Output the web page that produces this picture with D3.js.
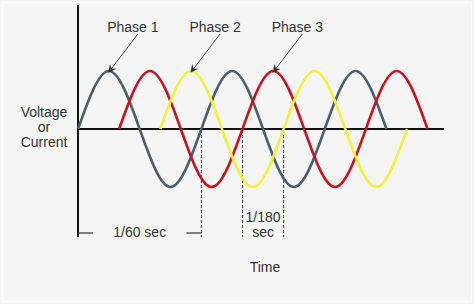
<!DOCTYPE html>
<html>
<head>
<meta charset="utf-8">
<script src="https://cdn.jsdelivr.net/npm/d3@7"></script>
<style>
  body { margin: 0; background: #f4f4f4; }
  svg { display: block; }
  text { font-family: "Liberation Sans", Arial, sans-serif; font-size: 14px; fill: #333; }
</style>
</head>
<body>
<svg id="chart"></svg>
<script>
// time is in units of 1/180 sec (one cycle = 3 units = 1/60 sec)
var phaseNames = ["Phase 1", "Phase 2", "Phase 3"]
// key points: [time, value] at zero crossings, peaks and troughs
var phase1 = [[0,0],[0.75,1],[1.5,0],[2.25,-1],[3,0],[3.75,1],[4.5,0],[5.25,-1],[6,0],[6.75,1],[7.5,0]]
var phase2 = [[2,0],[2.75,1],[3.5,0],[4.25,-1],[5,0],[5.75,1],[6.5,0],[7.25,-1],[8,0]]
var phase3 = [[1,0],[1.75,1],[2.5,0],[3.25,-1],[4,0],[4.75,1],[5.5,0],[6.25,-1],[7,0],[7.75,1],[8.5,0]]
// which peak each label arrow points at
var arrowPeaks = [0.75, 2.75, 4.75]
var markTimes = [3, 4, 5]          // dashed guides
var periodLabel = "1/60 sec"
var thirdLabel = ["1/180", "sec"]
var yLabel = ["Voltage", "or", "Current"]
var xLabel = "Time"

var screen = {width: 474, height: 304}
var svg = d3.select("#chart").attr("width", screen.width).attr("height", screen.height)

var xScale = d3.scaleLinear().domain([0, 8.9]).range([78, 444])
var yScale = d3.scaleLinear().domain([-1, 1]).range([187, 71])
var colors = d3.scaleOrdinal().domain(phaseNames).range(["#4b5f72", "#f2f23c", "#c8141e"])

//------ background frame ------
svg.append("rect").attr("x", 2.5).attr("y", 2.5)
  .attr("width", screen.width - 5).attr("height", screen.height - 5)
  .attr("fill", "#f5f5f5").attr("stroke", "#fbfbfb")

//------ axes ------
svg.append("line")
  .attr("x1", xScale(0)).attr("x2", xScale(0))
  .attr("y1", 5).attr("y2", 237)
  .attr("stroke", "#111").attr("stroke-width", 2)
svg.append("line")
  .attr("x1", xScale(0)).attr("x2", xScale.range()[1])
  .attr("y1", yScale(0)).attr("y2", yScale(0))
  .attr("stroke", "#111").attr("stroke-width", 2)

//------ dashed guides ------
svg.selectAll(".guide")
  .data(markTimes)
  .enter()
  .append("line")
  .attr("class", "guide")
  .attr("x1", function(t) { return xScale(t) })
  .attr("x2", function(t) { return xScale(t) })
  .attr("y1", yScale(0) + 1).attr("y2", 237)
  .attr("stroke", "#333").attr("stroke-width", 1)
  .attr("stroke-dasharray", "3,2")

//------ waves ------
var line = d3.line()
  .x(function(d) { return xScale(d[0]) })
  .y(function(d) { return yScale(d[1]) })
  .curve(d3.curveNatural)

var series = [phase1, phase2, phase3]
// draw order: blue, red, yellow
var order = [0, 2, 1]
order.forEach(function(i) {
  svg.append("path")
    .attr("d", line(series[i]))
    .attr("fill", "none")
    .attr("stroke", colors(phaseNames[i]))
    .attr("stroke-width", 2.6)
})

//------ labels with arrows ------
svg.append("defs").append("marker")
  .attr("id", "arrow")
  .attr("viewBox", "0 0 8 8")
  .attr("refX", 7).attr("refY", 4)
  .attr("markerWidth", 8).attr("markerHeight", 8)
  .attr("markerUnits", "userSpaceOnUse")
  .attr("orient", "auto")
  .append("path")
  .attr("d", "M0,0 L8,4 L0,8 L2.5,4 z")
  .attr("fill", "#333")

phaseNames.forEach(function(name, i) {
  var tx = xScale(arrowPeaks[i])
  var ty = yScale(1) + 1
  svg.append("line")
    .attr("x1", tx + 29).attr("y1", ty - 38)
    .attr("x2", tx).attr("y2", ty)
    .attr("stroke", "#444").attr("stroke-width", 1)
    .attr("marker-end", "url(#arrow)")
  svg.append("text")
    .attr("x", tx + 24).attr("y", 32)
    .attr("text-anchor", "middle")
    .text(name)
})

//------ y label ------
svg.append("text")
  .attr("x", 44).attr("y", 117)
  .attr("text-anchor", "middle")
  .selectAll("tspan")
  .data(yLabel)
  .enter()
  .append("tspan")
  .attr("x", 44)
  .attr("dy", function(d, i) { return i == 0 ? 0 : 15 })
  .text(function(d) { return d })

//------ 1/60 sec bracket ------
svg.append("line")
  .attr("x1", xScale(0)).attr("x2", xScale(0) + 15)
  .attr("y1", 233).attr("y2", 233)
  .attr("stroke", "#333").attr("stroke-width", 1.2)
svg.append("line")
  .attr("x1", xScale(markTimes[0]) - 15).attr("x2", xScale(markTimes[0]))
  .attr("y1", 233).attr("y2", 233)
  .attr("stroke", "#333").attr("stroke-width", 1.2)
svg.append("text")
  .attr("x", (xScale(0) + xScale(markTimes[0])) / 2).attr("y", 237)
  .attr("text-anchor", "middle")
  .text(periodLabel)

//------ 1/180 sec (two separate lines) ------
thirdLabel.forEach(function(d, i) {
  svg.append("text")
    .attr("x", (xScale(markTimes[1]) + xScale(markTimes[2])) / 2)
    .attr("y", 222 + i * 15)
    .attr("text-anchor", "middle")
    .text(d)
})

//------ x label ------
svg.append("text")
  .attr("x", 265).attr("y", 272)
  .attr("text-anchor", "middle")
  .text(xLabel)
</script>
</body>
</html>
